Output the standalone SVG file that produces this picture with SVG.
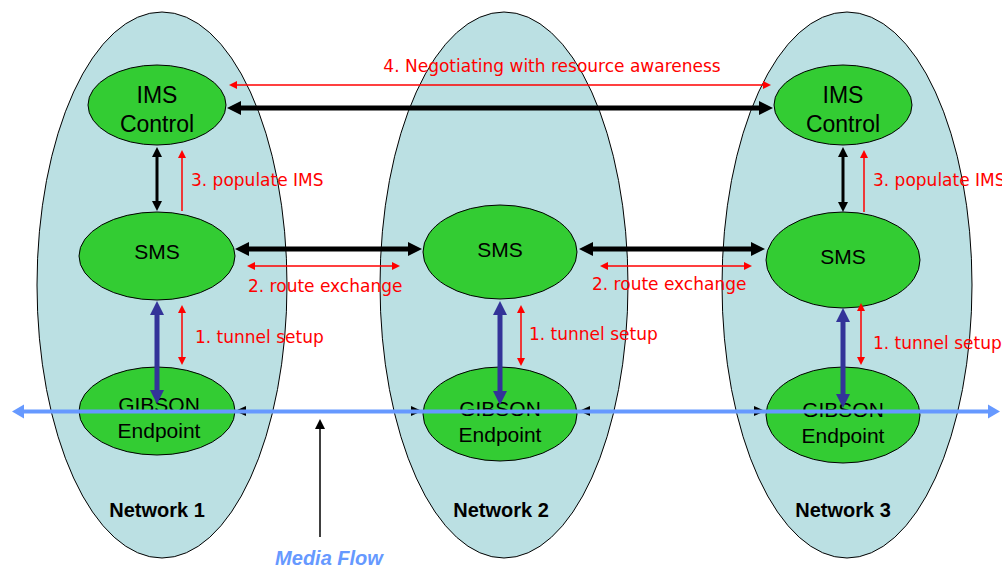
<svg xmlns="http://www.w3.org/2000/svg" width="1002" height="569" viewBox="0 0 1002 569">
<style>
.net{fill:#BBE0E3;stroke:#000;stroke-width:1}
.node{fill:#33CC33;stroke:#000;stroke-width:1}
.nt{font-family:"Liberation Sans",Arial,sans-serif;fill:#000;text-anchor:middle}
.nl{font-family:"Liberation Sans",Arial,sans-serif;font-weight:bold;font-size:20px;fill:#000;text-anchor:middle}
.rt{font-family:"DejaVu Sans",Verdana,sans-serif;font-size:17px;fill:#FF0000}
.thk{stroke:#000;stroke-width:5;fill:none}
.med{stroke:#000;stroke-width:3;fill:none}
.thin{stroke:#000;stroke-width:1.5;fill:none}
.red{stroke:#FF0000;stroke-width:1.5;fill:none}
.tun{stroke:#333399;stroke-width:5;fill:none}
.mf{stroke:#6699FF;stroke-width:4;fill:none}
</style>
<defs>
<marker id="ak" markerUnits="userSpaceOnUse" viewBox="0 -7 14 14" refX="0" refY="0" markerWidth="14" markerHeight="14" orient="auto-start-reverse" overflow="visible"><path d="M0,-7 L14,0 L0,7 z" fill="#000"/></marker>
<marker id="am" markerUnits="userSpaceOnUse" viewBox="0 -5 10 10" refX="0" refY="0" markerWidth="10" markerHeight="10" orient="auto-start-reverse" overflow="visible"><path d="M0,-5 L10,0 L0,5 z" fill="#000"/></marker>
<marker id="as" markerUnits="userSpaceOnUse" viewBox="0 -5 11 10" refX="0" refY="0" markerWidth="11" markerHeight="10" orient="auto-start-reverse" overflow="visible"><path d="M0,-5 L11,0 L0,5 z" fill="#000"/></marker>
<marker id="ar" markerUnits="userSpaceOnUse" viewBox="0 -4 8 8" refX="0" refY="0" markerWidth="8" markerHeight="8" orient="auto-start-reverse" overflow="visible"><path d="M0,-4 L8,0 L0,4 z" fill="#FF0000"/></marker>
<marker id="ab" markerUnits="userSpaceOnUse" viewBox="0 -7 14 14" refX="0" refY="0" markerWidth="14" markerHeight="14" orient="auto-start-reverse" overflow="visible"><path d="M0,-7 L14,0 L0,7 z" fill="#333399"/></marker>
<marker id="af" markerUnits="userSpaceOnUse" viewBox="0 -7 12 14" refX="0" refY="0" markerWidth="12" markerHeight="14" orient="auto-start-reverse" overflow="visible"><path d="M0,-7 L12,0 L0,7 z" fill="#6699FF"/></marker>
</defs>

<g id="network1"><ellipse class="net" cx="162" cy="285" rx="125" ry="273"/><text class="nl" x="157" y="517">Network 1</text></g>
<g id="network2"><ellipse class="net" cx="504" cy="285" rx="124" ry="273"/><text class="nl" x="501" y="517">Network 2</text></g>
<g id="network3"><ellipse class="net" cx="847" cy="285" rx="125" ry="273"/><text class="nl" x="843" y="517">Network 3</text></g>

<g id="ims1"><ellipse class="node" cx="157" cy="105" rx="69" ry="40"/><text class="nt" font-size="23" x="157" y="103">IMS</text><text class="nt" font-size="23" x="157" y="132">Control</text></g>
<g id="ims3"><ellipse class="node" cx="843" cy="105" rx="69" ry="40"/><text class="nt" font-size="23" x="843" y="103">IMS</text><text class="nt" font-size="23" x="843" y="132">Control</text></g>

<g id="sms1"><ellipse class="node" cx="157" cy="256" rx="78" ry="44"/><text class="nt" font-size="21" x="157" y="259">SMS</text></g>
<g id="sms2"><ellipse class="node" cx="500" cy="252" rx="77" ry="47"/><text class="nt" font-size="21" x="500" y="257">SMS</text></g>
<g id="sms3"><ellipse class="node" cx="843" cy="260" rx="77" ry="48"/><text class="nt" font-size="21" x="843" y="264">SMS</text></g>

<g id="gibson1"><ellipse class="node" cx="157" cy="411" rx="78" ry="44"/><text class="nt" font-size="21" x="159" y="412">GIBSON</text><text class="nt" font-size="21" x="159" y="438">Endpoint</text></g>
<g id="gibson2"><ellipse class="node" cx="500" cy="414" rx="77" ry="47"/><text class="nt" font-size="21" x="500" y="416">GIBSON</text><text class="nt" font-size="21" x="500" y="442">Endpoint</text></g>
<g id="gibson3"><ellipse class="node" cx="843" cy="415" rx="77" ry="48"/><text class="nt" font-size="21" x="843" y="417">GIBSON</text><text class="nt" font-size="21" x="843" y="443">Endpoint</text></g>

<g id="connectors">
<line class="red" x1="237" y1="85" x2="763" y2="85" marker-start="url(#ar)" marker-end="url(#ar)"/>
<line class="thk" x1="241" y1="108" x2="759" y2="108" marker-start="url(#ak)" marker-end="url(#ak)"/>

<line class="thk" x1="249" y1="249" x2="408" y2="249" marker-start="url(#ak)" marker-end="url(#ak)"/>
<line class="red" x1="255" y1="266" x2="392" y2="266" marker-start="url(#ar)" marker-end="url(#ar)"/>
<line class="thk" x1="593" y1="249" x2="751" y2="249" marker-start="url(#ak)" marker-end="url(#ak)"/>
<line class="red" x1="608" y1="266" x2="744" y2="266" marker-start="url(#ar)" marker-end="url(#ar)"/>

<line class="med" x1="157" y1="157" x2="157" y2="201" marker-start="url(#am)" marker-end="url(#am)"/>
<line class="red" x1="182" y1="211" x2="182" y2="158" marker-end="url(#ar)"/>
<line class="med" x1="843" y1="157" x2="843" y2="202" marker-start="url(#am)" marker-end="url(#am)"/>
<line class="red" x1="864" y1="212" x2="864" y2="158" marker-end="url(#ar)"/>

<line class="tun" x1="157" y1="315" x2="157" y2="390" marker-start="url(#ab)" marker-end="url(#ab)"/>
<line class="red" x1="182" y1="313" x2="182" y2="357" marker-start="url(#ar)" marker-end="url(#ar)"/>
<line class="tun" x1="500" y1="315" x2="500" y2="391" marker-start="url(#ab)" marker-end="url(#ab)"/>
<line class="red" x1="521" y1="313" x2="521" y2="358" marker-start="url(#ar)" marker-end="url(#ar)"/>
<line class="tun" x1="843" y1="322" x2="843" y2="394" marker-start="url(#ab)" marker-end="url(#ab)"/>
<line class="red" x1="861" y1="311" x2="861" y2="357" marker-start="url(#ar)" marker-end="url(#ar)"/>

<line class="thin" x1="246" y1="411" x2="411" y2="411" marker-start="url(#as)" marker-end="url(#as)"/>
<line class="thin" x1="590" y1="411" x2="754" y2="411" marker-start="url(#as)" marker-end="url(#as)"/>

<line class="mf" x1="24" y1="411.5" x2="988" y2="411.5" marker-start="url(#af)" marker-end="url(#af)"/>

<line class="thin" x1="320" y1="537" x2="320" y2="429" marker-end="url(#am)"/>
</g>

<g id="labels">
<text class="rt" x="552" y="72" text-anchor="middle">4. Negotiating with resource awareness</text>
<text class="rt" x="191" y="186">3. populate IMS</text>
<text class="rt" x="873" y="186">3. populate IMS</text>
<text class="rt" x="248" y="292">2. route exchange</text>
<text class="rt" x="592" y="290">2. route exchange</text>
<text class="rt" x="195" y="343">1. tunnel setup</text>
<text class="rt" x="529" y="340">1. tunnel setup</text>
<text class="rt" x="873" y="349">1. tunnel setup</text>
<text x="329" y="565" text-anchor="middle" font-family="Liberation Sans, Arial, sans-serif" font-weight="bold" font-style="italic" font-size="20" fill="#6699FF">Media Flow</text>
</g>
</svg>
